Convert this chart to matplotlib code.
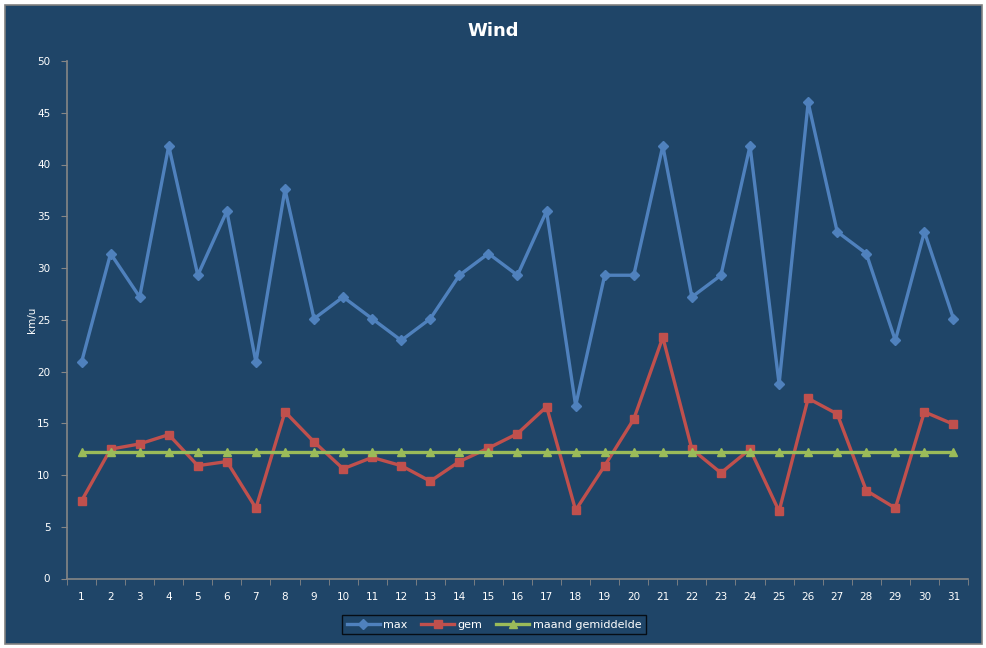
import matplotlib
matplotlib.use("Agg")
import matplotlib.pyplot as plt
from matplotlib.patches import Rectangle
import numpy as np

days = list(range(1, 32))
max_wind = [20.9, 31.4, 27.2, 41.8, 29.3, 35.5, 20.9, 37.6, 25.1, 27.2,
            25.1, 23.0, 25.1, 29.3, 31.4, 29.3, 35.5, 16.7, 29.3, 29.3,
            41.8, 27.2, 29.3, 41.8, 18.8, 46.0, 33.5, 31.4, 23.0, 33.5, 25.1]
gem_wind = [7.5, 12.5, 13.0, 13.9, 10.9, 11.3, 6.8, 16.1, 13.2, 10.6,
            11.7, 10.9, 9.4, 11.3, 12.6, 14.0, 16.6, 6.6, 10.9, 15.4,
            23.3, 12.5, 10.2, 12.5, 6.5, 17.4, 15.9, 8.5, 6.8, 16.1, 14.9]
maand_gem = [12.2] * 31

BG = "#1F4568"
W, H = 987, 648
fig = plt.figure(figsize=(W / 100, H / 100), dpi=100, facecolor="white")
# chart area background with border
fig.patches.append(Rectangle((5 / W, 4 / H), (982 - 5) / W, (644 - 5) / H,
                             transform=fig.transFigure, facecolor=BG,
                             edgecolor="#808080", linewidth=1.2, zorder=-1))

ax = fig.add_axes([67 / W, (H - 578.5) / H, (968 - 67) / W, (578.5 - 61) / H])
ax.set_zorder(2)
ax.patch.set_alpha(0)

ax.plot(days, max_wind, color="#4F81BD", lw=2.4, marker="D", ms=5,
        label="max", zorder=3)
ax.plot(days, gem_wind, color="#C0504D", lw=2.4, marker="s", ms=6,
        label="gem", zorder=4)
ax.plot(days, maand_gem, color="#9BBB59", lw=2.4, marker="^", ms=6,
        label="maand gemiddelde", zorder=5)

ax.set_xlim(0.5, 31.5)
ax.set_ylim(0, 50)
ax.set_yticks(np.arange(0, 51, 5))
ax.set_xticks(days)
ax.set_xticks(np.arange(0.5, 32, 1), minor=True)
ax.tick_params(axis="x", which="major", length=0, pad=10, labelsize=7.5,
               labelcolor="white")
ax.tick_params(axis="x", which="minor", length=4, color="#868686",
               direction="out")
ax.tick_params(axis="y", length=4, color="#868686", labelsize=7.5,
               labelcolor="white", pad=8)
for s in ["top", "right"]:
    ax.spines[s].set_visible(False)
for s in ["left", "bottom"]:
    ax.spines[s].set_color("#868686")
    ax.spines[s].set_linewidth(1.2)

fig.text(493 / W, 1 - 31 / H, "Wind", ha="center", va="center",
         fontsize=13, fontweight="bold", color="white")
fig.text(32 / W, 1 - 320 / H, "km/u", ha="center", va="center",
         rotation=90, fontsize=7.5, color="white")

leg = fig.legend(loc="center", bbox_to_anchor=(494 / W, 1 - 624.5 / H),
                 ncol=3, frameon=True, fontsize=8, handlelength=3,
                 columnspacing=1.2, handletextpad=0.3, borderpad=0.4,
                 fancybox=False)
leg.set_zorder(3)
leg.get_frame().set_facecolor(BG)
leg.get_frame().set_edgecolor("black")
leg.get_frame().set_linewidth(1)
for t in leg.get_texts():
    t.set_color("white")

fig.savefig("out.png", dpi=100, facecolor="white")
